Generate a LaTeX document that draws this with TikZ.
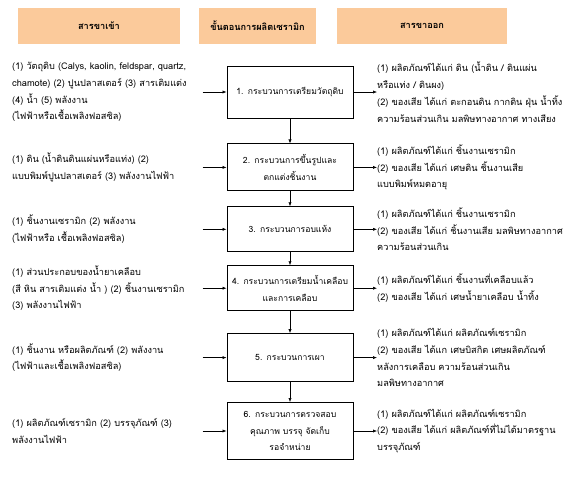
\documentclass[tikz,border=0pt]{standalone}
\usepackage{fontspec}
\newfontfamily\thaifont[Script=Thai]{Loma}
\usepackage{xcolor}
\usepackage{tikz}
\usetikzlibrary{arrows.meta,positioning}
\definecolor{peach}{RGB}{251,202,155}

\begin{document}
\begin{tikzpicture}[
  x=1pt, y=1pt,
  font=\thaifont\fontsize{9.2}{16.8}\selectfont,
  head/.style={fill=peach, minimum height=36pt, inner sep=0pt, font=\thaifont\bfseries\fontsize{9.2}{16.8}\selectfont},
  stage/.style={draw=black, line width=0.9pt, fill=white,
                text width=120pt, align=center, inner sep=3pt,
                font=\thaifont\fontsize{8.6}{16.8}\selectfont},
  inp/.style={anchor=west, align=left, inner sep=0pt},
  outp/.style={anchor=west, align=left, inner sep=0pt},
  arr/.style={-{Latex[length=4pt,width=3.2pt]}, line width=0.6pt}
]
\useasboundingbox (0,0) rectangle (584,-477);
% --- column heads ---
\node[head, minimum width=162pt] (hin) at (99,-26) {สารขาเข้า};
\node[head, minimum width=117pt] (hmid) at (257.5,-26) {ขั้นตอนการผลิตเซรามิก};
\node[head, minimum width=170pt] (hout) at (422,-26) {สารขาออก};
% --- process steps ---
\node[stage, minimum height=52pt] (s1) at (290,-92) {1. กระบวนการเตรียมวัตถุดิบ};
\node[stage, minimum height=47pt, below=25pt of s1] (s2) {2. กระบวนการขึ้นรูปและ\\ ตกแต่งชิ้นงาน};
\node[stage, minimum height=45pt, below=15pt of s2] (s3) {3. กระบวนการอบแห้ง};
\node[stage, minimum height=45pt, below=13pt of s3] (s4) {4. กระบวนการเตรียมน้ำเคลือบ\\ และการเคลือบ};
\node[stage, minimum height=48pt, below=22pt of s4] (s5) {5. กระบวนการเผา};
\node[stage, minimum height=57pt, below=20pt of s5] (s6) {6. กระบวนการตรวจสอบ\\ คุณภาพ บรรจุ จัดเก็บ\\ รอจำหน่าย};
% --- inputs (left) ---
\coordinate (lft) at (12,0);
\coordinate (rgt) at (377,0);
\node[inp] (i1) at (lft |- s1) {(1) วัตถุดิบ (Calys, kaolin, feldspar, quartz,\\
  chamote) (2) ปูนปลาสเตอร์ (3) สารเติมแต่ง\\ (4) น้ำ (5) พลังงาน\\ (ไฟฟ้าหรือเชื้อเพลิงฟอสซิล)};
\node[inp] (i2) at (lft |- s2) {(1) ดิน (น้ำดินดินแผ่นหรือแท่ง) (2)\\ แบบพิมพ์ปูนปลาสเตอร์ (3) พลังงานไฟฟ้า};
\node[inp] (i3) at (lft |- s3) {(1) ชิ้นงานเซรามิก (2) พลังงาน\\ (ไฟฟ้าหรือ เชื้อเพลิงฟอสซิล)};
\node[inp] (i4) at (lft |- s4) {(1) ส่วนประกอบของน้ำยาเคลือบ\\ (สี หิน สารเติมแต่ง น้ำ ) (2) ชิ้นงานเซรามิก\\ (3) พลังงานไฟฟ้า};
\node[inp] (i5) at (lft |- s5) {(1) ชิ้นงาน หรือผลิตภัณฑ์ (2) พลังงาน\\ (ไฟฟ้าและเชื้อเพลิงฟอสซิล)};
\node[inp] (i6) at (lft |- s6) {(1) ผลิตภัณฑ์เซรามิก (2) บรรจุภัณฑ์ (3)\\ พลังงานไฟฟ้า};
% --- outputs (right) ---
\node[outp] (o1) at (rgt |- s1) {(1) ผลิตภัณฑ์ได้แก่ ดิน (น้ำดิน / ดินแผ่น\\ หรือแท่ง / ดินผง)\\
  (2) ของเสีย ได้แก่ ตะกอนดิน กากดิน ฝุ่น น้ำทิ้ง\\ ความร้อนส่วนเกิน มลพิษทางอากาศ ทางเสียง};
\node[outp] (o2) at (rgt |- s2) {(1) ผลิตภัณฑ์ได้แก่ ชิ้นงานเซรามิก\\ (2) ของเสีย ได้แก่ เศษดิน ชิ้นงานเสีย\\ แบบพิมพ์หมดอายุ};
\node[outp] (o3) at (rgt |- s3) {(1) ผลิตภัณฑ์ได้แก่ ชิ้นงานเซรามิก\\ (2) ของเสีย ได้แก่ ชิ้นงานเสีย มลพิษทางอากาศ\\ ความร้อนส่วนเกิน};
\node[outp] (o4) at (rgt |- s4) {(1) ผลิตภัณฑ์ได้แก่ ชิ้นงานที่เคลือบแล้ว\\ (2) ของเสีย ได้แก่ เศษน้ำยาเคลือบ น้ำทิ้ง};
\node[outp] (o5) at (rgt |- s5) {(1) ผลิตภัณฑ์ได้แก่ ผลิตภัณฑ์เซรามิก\\ (2) ของเสีย ได้แก เศษบิสกิต เศษผลิตภัณฑ์\\
  หลังการเคลือบ ความร้อนส่วนเกิน\\ มลพิษทางอากาศ};
\node[outp] (o6) at (rgt |- s6) {(1) ผลิตภัณฑ์ได้แก่ ผลิตภัณฑ์เซรามิก\\ (2) ของเสีย ได้แก่ ผลิตภัณฑ์ที่ไม่ได้มาตรฐาน\\ บรรจุภัณฑ์};
% --- arrows ---
\foreach \a/\b in {s1/s2, s2/s3, s3/s4, s4/s5, s5/s6}
  \draw[arr] (\a) -- (\b);
\foreach \n in {1,...,6}{
  \draw[arr] ([xshift=-24pt]s\n.west) -- (s\n.west);
  \draw[arr] (s\n.east) -- (s\n.east -| o\n.west);
}
\end{tikzpicture}
\end{document}
